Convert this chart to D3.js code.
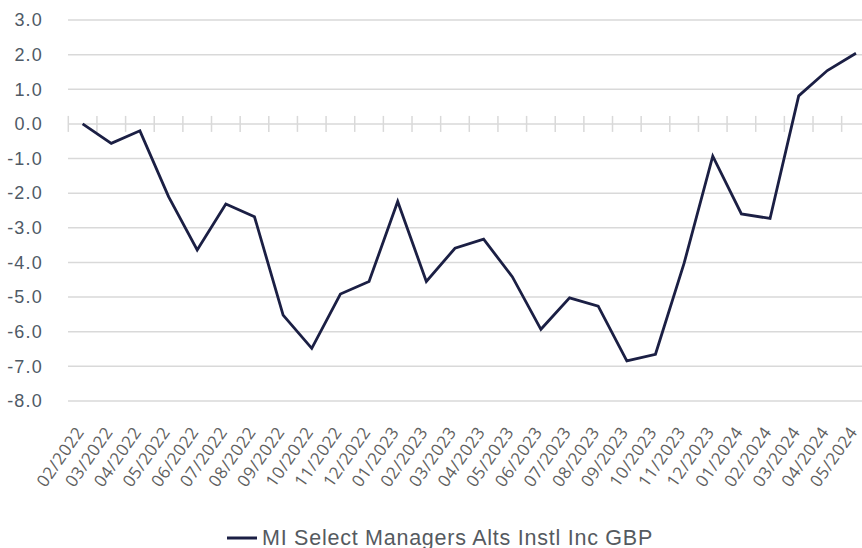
<!DOCTYPE html>
<html>
<head>
<meta charset="utf-8">
<script src="https://cdn.jsdelivr.net/npm/d3@7"></script>
<style>
  html, body { margin: 0; padding: 0; background: #fff; }
  svg { display: block; }
</style>
</head>
<body>
<svg id="chart" width="862" height="548"></svg>
<script>
const months = ["02/2022","03/2022","04/2022","05/2022","06/2022","07/2022","08/2022","09/2022","10/2022","11/2022","12/2022","01/2023","02/2023","03/2023","04/2023","05/2023","06/2023","07/2023","08/2023","09/2023","10/2023","11/2023","12/2023","01/2024","02/2024","03/2024","04/2024","05/2024"];
const values = [0.0,-0.56,-0.2,-2.1,-3.64,-2.31,-2.68,-5.52,-6.48,-4.91,-4.55,-2.24,-4.55,-3.59,-3.33,-4.41,-5.93,-5.02,-5.26,-6.84,-6.65,-4.02,-0.93,-2.6,-2.73,0.81,1.54,2.04];
const yTicks = [3,2,1,0,-1,-2,-3,-4,-5,-6,-7,-8];
const seriesName = "MI Select Managers Alts Instl Inc GBP";

const svg = d3.select("#chart");
const x = d3.scaleBand().domain(months).range([68.3, 870.3]).padding(0);
const y = d3.scaleLinear().domain([-8, 3]).range([401, 20]);

// gridlines
svg.append("g").selectAll("line").data(yTicks).join("line")
  .attr("x1", 68).attr("x2", 872)
  .attr("y1", d => y(d)).attr("y2", d => y(d))
  .attr("stroke", "#d9d9d9").attr("stroke-width", 1.5);

// y labels
const fmt = d => d3.format(".1f")(d).replace("\u2212", "-");
svg.append("g").selectAll("text").data(yTicks).join("text")
  .attr("x", 43).attr("y", d => y(d))
  .attr("dy", "0.35em")
  .attr("text-anchor", "end")
  .attr("font-family", "Liberation Sans, Arial, sans-serif")
  .attr("font-size", 18)
  .attr("letter-spacing", 1.2)
  .attr("fill", "#4f5a66")
  .text(fmt);

// tick marks on zero axis at band boundaries
const bounds = months.map(m => x(m)).concat([x(months[months.length-1]) + x.bandwidth()]);
svg.append("g").selectAll("line").data(bounds).join("line")
  .attr("x1", d => d).attr("x2", d => d)
  .attr("y1", y(0) - 8).attr("y2", y(0) + 8)
  .attr("stroke", "#d9d9d9").attr("stroke-width", 1.5);

// x labels
svg.append("g").selectAll("text").data(months).join("text")
  .attr("transform", d => `translate(${x(d) + x.bandwidth()/2 + 2.3},432) rotate(-55)`)
  .attr("text-anchor", "end")
  .attr("font-family", "Open Sans, sans-serif")
  .attr("font-size", 17)
  .attr("letter-spacing", 0.6)
  .attr("fill", "#606060")
  .text(d => d);

// line
const line = d3.line()
  .x((d, i) => x(months[i]) + x.bandwidth()/2)
  .y(d => y(d));
svg.append("path").datum(values)
  .attr("d", line)
  .attr("fill", "none")
  .attr("stroke", "#1b1f44")
  .attr("stroke-width", 2.8)
  .attr("stroke-linejoin", "miter");

// legend
const lg = svg.append("g");
lg.append("line").attr("x1", 227).attr("x2", 257).attr("y1", 538).attr("y2", 538)
  .attr("stroke", "#1b1f44").attr("stroke-width", 3);
lg.append("text").attr("x", 262).attr("y", 545)
  .attr("font-family", "Liberation Sans, Arial, sans-serif")
  .attr("font-size", 21.5)
  .attr("letter-spacing", 0.75)
  .attr("fill", "#555a60")
  .text(seriesName);
</script>
</body>
</html>
